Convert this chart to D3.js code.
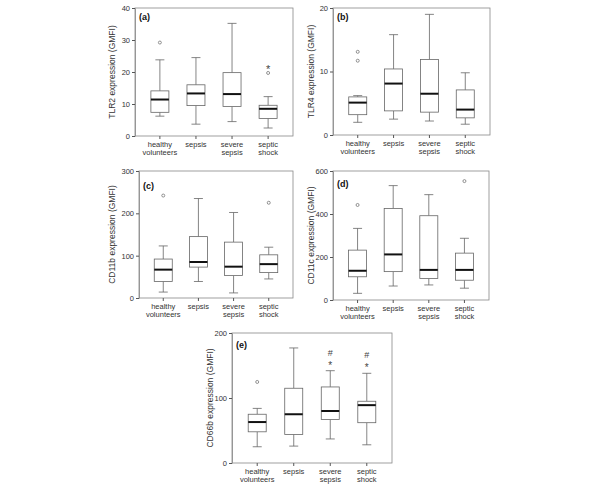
<!DOCTYPE html>
<html>
<head>
<meta charset="utf-8">
<script src="https://cdn.jsdelivr.net/npm/d3@7"></script>
<style>
  body { margin: 0; background: #fff; }
  text { font-family: Arial, "Liberation Sans", sans-serif; fill: #333; }
</style>
</head>
<body>
<div id="plot"></div>
<script>
// groups on the x axis (two-line labels)
var categories = [["healthy", "volunteers"], ["sepsis"], ["severe", "sepsis"], ["septic", "shock"]];

// box stats per group: [low whisker, Q1, median, Q3, high whisker]
var tlr2Stats  = [[6.2, 7.4, 11.4, 14.1, 23.8], [3.7, 9.5, 13.3, 16.0, 24.5], [4.5, 9.2, 13.1, 19.8, 35.2], [2.5, 5.5, 8.5, 9.6, 12.3]];
var tlr2Out    = [[29.2], [], [], [19.7]];
var tlr2Ext    = [[], [], [], [22.4]];
var tlr2Ticks  = [0, 10, 20, 30, 40];

var tlr4Stats  = [[2.0, 3.2, 5.1, 6.0, 6.2], [2.5, 3.8, 8.1, 10.4, 15.8], [2.2, 3.6, 6.5, 11.9, 19.0], [1.7, 2.7, 4.0, 7.1, 9.8]];
var tlr4Out    = [[11.7, 13.1], [], [], []];
var tlr4Ext    = [[], [], [], []];
var tlr4Ticks  = [0, 10, 20];

var cd11bStats = [[14, 39, 67, 92, 123], [39, 73, 85, 145, 235], [12, 53, 74, 132, 202], [45, 60, 80, 102, 120]];
var cd11bOut   = [[242], [], [], [225]];
var cd11bExt   = [[], [], [], []];
var cd11bTicks = [0, 100, 200, 300];

var cd11cStats = [[31, 108, 136, 232, 333], [65, 132, 212, 426, 532], [70, 100, 140, 392, 490], [55, 92, 140, 218, 287]];
var cd11cOut   = [[442], [], [], [553]];
var cd11cExt   = [[], [], [], []];
var cd11cTicks = [0, 200, 400, 600];

var cd66bStats = [[25, 48, 63, 75, 84], [26, 44, 75, 115, 177], [37, 67, 80, 117, 142], [28, 62, 89, 95, 138]];
var cd66bOut   = [[124.7], [], [], []];
var cd66bExt   = [[], [], [], []];
var cd66bSig   = [[], [], ["*", "#"], ["*", "#"]];
var cd66bTicks = [0, 100, 200];

var panels = [
    { label: "(a)", title: "TLR2 expression (GMFI)",  stats: tlr2Stats,  out: tlr2Out,  ext: tlr2Ext,  ticks: tlr2Ticks,  sig: null,
      x0: 135, x1: 293, y0: 8,   y1: 136, titleX: 112, labelDy: 12 },
    { label: "(b)", title: "TLR4 expression (GMFI)",  stats: tlr4Stats,  out: tlr4Out,  ext: tlr4Ext,  ticks: tlr4Ticks,  sig: null,
      x0: 333, x1: 490, y0: 8,   y1: 135, titleX: 311, labelDy: 12 },
    { label: "(c)", title: "CD11b expression (GMFI)", stats: cd11bStats, out: cd11bOut, ext: cd11bExt, ticks: cd11bTicks, sig: null,
      x0: 139, x1: 293, y0: 171, y1: 298, titleX: 112, labelDy: 18 },
    { label: "(d)", title: "CD11c expression (GMFI)", stats: cd11cStats, out: cd11cOut, ext: cd11cExt, ticks: cd11cTicks, sig: null,
      x0: 333, x1: 489, y0: 171, y1: 300, titleX: 311, labelDy: 16 },
    { label: "(e)", title: "CD66b expression (GMFI)", stats: cd66bStats, out: cd66bOut, ext: cd66bExt, ticks: cd66bTicks, sig: cd66bSig,
      x0: 232, x1: 392, y0: 333, y1: 463, titleX: 210, labelDy: 15 }
];

var svg = d3.select("#plot")
            .append("svg")
            .attr("width", 600)
            .attr("height", 487);

var boxW = 18, capW = 9;
var lineCol = "#666", frameCol = "#888";
var sigOffset = [2, 15];   // px above the upper whisker, per mark

panels.forEach(function(p) {
    var x = d3.scalePoint()
              .domain(d3.range(categories.length))
              .range([p.x0, p.x1])
              .padding(0.69);
    var y = d3.scaleLinear()
              .domain([p.ticks[0], p.ticks[p.ticks.length - 1]])
              .range([p.y1, p.y0]);

    var g = svg.append("g");

    // frame
    g.append("rect")
        .attr("x", p.x0)
        .attr("y", p.y0)
        .attr("width", p.x1 - p.x0)
        .attr("height", p.y1 - p.y0)
        .style("fill", "none")
        .style("stroke", frameCol)
        .style("stroke-width", 0.8);

    // y axis
    var yAxis = g.append("g")
        .attr("transform", "translate(" + p.x0 + ",0)")
        .call(d3.axisLeft(y).tickValues(p.ticks).tickSize(3).tickPadding(2).tickSizeOuter(0));
    yAxis.select(".domain").style("stroke", frameCol).style("stroke-width", 0.8);
    yAxis.selectAll(".tick line").style("stroke", "#555");
    yAxis.selectAll(".tick text")
        .style("font-size", "7.5px")
        .style("fill", "#333")
        .style("font-family", "Arial, 'Liberation Sans', sans-serif");

    // x axis ticks
    g.selectAll(".xtick")
        .data(categories)
        .enter().append("line")
        .attr("x1", function(d, i){ return x(i); })
        .attr("x2", function(d, i){ return x(i); })
        .attr("y1", p.y1)
        .attr("y2", p.y1 + 3)
        .style("stroke", "#555");

    g.selectAll(".xlab")
        .data(categories)
        .enter().append("text")
        .attr("text-anchor", "middle")
        .style("font-size", "7.5px")
        .each(function(d, i){
            var t = d3.select(this);
            d.forEach(function(line, k){
                t.append("tspan")
                    .attr("x", x(i))
                    .attr("y", p.y1 + 11 + k * 8)
                    .text(line);
            });
        });

    // y title
    g.append("text")
        .attr("transform", "translate(" + p.titleX + "," + ((p.y0 + p.y1) / 2) + ") rotate(-90)")
        .attr("text-anchor", "middle")
        .attr("dy", "0.35em")
        .style("font-size", "8.5px")
        .text(p.title);

    // panel letter
    g.append("text")
        .attr("x", p.x0 + 4)
        .attr("y", p.y0 + p.labelDy)
        .style("font-size", "9px")
        .style("font-weight", "bold")
        .style("fill", "#111")
        .text(p.label);

    // boxes
    var box = g.selectAll(".box")
        .data(p.stats)
        .enter().append("g");

    box.append("line")
        .attr("x1", function(d, i){ return x(i); })
        .attr("x2", function(d, i){ return x(i); })
        .attr("y1", function(d){ return y(d[0]); })
        .attr("y2", function(d){ return y(d[1]); })
        .style("stroke", lineCol).style("stroke-width", 0.8);
    box.append("line")
        .attr("x1", function(d, i){ return x(i); })
        .attr("x2", function(d, i){ return x(i); })
        .attr("y1", function(d){ return y(d[3]); })
        .attr("y2", function(d){ return y(d[4]); })
        .style("stroke", lineCol).style("stroke-width", 0.8);
    [0, 4].forEach(function(k){
        box.append("line")
            .attr("x1", function(d, i){ return x(i) - capW / 2; })
            .attr("x2", function(d, i){ return x(i) + capW / 2; })
            .attr("y1", function(d){ return y(d[k]); })
            .attr("y2", function(d){ return y(d[k]); })
            .style("stroke", lineCol).style("stroke-width", 0.8);
    });
    box.append("rect")
        .attr("x", function(d, i){ return x(i) - boxW / 2; })
        .attr("y", function(d){ return y(d[3]); })
        .attr("width", boxW)
        .attr("height", function(d){ return y(d[1]) - y(d[3]); })
        .style("fill", "#fff")
        .style("stroke", lineCol)
        .style("stroke-width", 0.8);
    box.append("line")
        .attr("x1", function(d, i){ return x(i) - boxW / 2; })
        .attr("x2", function(d, i){ return x(i) + boxW / 2; })
        .attr("y1", function(d){ return y(d[2]); })
        .attr("y2", function(d){ return y(d[2]); })
        .style("stroke", "#111").style("stroke-width", 2);

    // outliers (circles) and extremes (stars)
    p.out.forEach(function(vals, i){
        g.selectAll(null)
            .data(vals)
            .enter().append("circle")
            .attr("cx", x(i))
            .attr("cy", function(v){ return y(v); })
            .attr("r", 1.5)
            .style("fill", "none")
            .style("stroke", lineCol)
            .style("stroke-width", 0.7);
    });
    p.ext.forEach(function(vals, i){
        g.selectAll(null)
            .data(vals)
            .enter().append("text")
            .attr("x", x(i))
            .attr("y", function(v){ return y(v); })
            .attr("dy", "0.75em")
            .attr("text-anchor", "middle")
            .style("font-size", "11px")
            .style("fill", "#444")
            .text("*");
    });

    // significance marks above whisker
    if (p.sig) {
        p.sig.forEach(function(marks, i){
            g.selectAll(null)
                .data(marks)
                .enter().append("text")
                .attr("x", x(i))
                .attr("y", function(m, k){ return y(p.stats[i][4]) - sigOffset[k]; })
                .attr("text-anchor", "middle")
                .style("font-size", function(m){ return m === "*" ? "10px" : "9px"; })
                .style("fill", "#444")
                .text(function(m){ return m; });
        });
    }
});
</script>
</body>
</html>
